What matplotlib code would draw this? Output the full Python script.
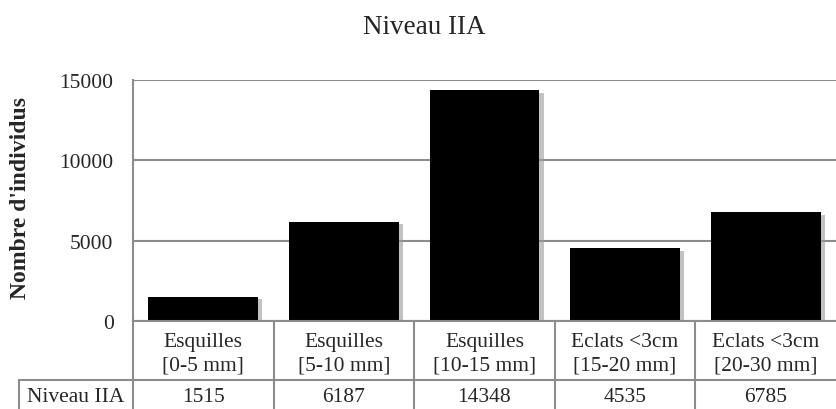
import matplotlib
matplotlib.use("Agg")
import matplotlib.pyplot as plt
import matplotlib.patheffects as pe
from matplotlib.transforms import blended_transform_factory

categories = ["Esquilles\n[0-5 mm]", "Esquilles\n[5-10 mm]", "Esquilles\n[10-15 mm]",
              "Eclats <3cm\n[15-20 mm]", "Eclats <3cm\n[20-30 mm]"]
series_name = "Niveau IIA"
values = [1515, 6187, 14348, 4535, 6785]
yticks = [0, 5000, 10000, 15000]

plt.rcParams['font.family'] = ['Liberation Serif', 'DejaVu Serif']

W, H = 836, 410
fig = plt.figure(figsize=(W / 100, H / 100), dpi=100)

def fx(px): return px / W
def fy(py): return 1 - py / H

ax_l, ax_r, ax_t, ax_b = 133, 836, 81, 322
ax = fig.add_axes([fx(ax_l), fy(ax_b), fx(ax_r) - fx(ax_l), fy(ax_t) - fy(ax_b)])

grid_c = '#8c8c8c'
txt_c = '#262626'
fs = 15.5
x = range(len(values))
bars = ax.bar(x, values, width=0.78, color='black', zorder=3,
              path_effects=[pe.SimplePatchShadow(offset=(3, -2), shadow_rgbFace='#9a9a9a', alpha=0.6), pe.Normal()])
ax.set_xlim(-0.5, len(values) - 0.5)
ax.set_ylim(0, 15000)
ax.set_yticks(yticks)
ax.set_yticklabels([str(v) for v in yticks], fontsize=fs, color=txt_c)
ax.tick_params(axis='y', length=0, pad=14)
ax.tick_params(axis='x', length=0, labelbottom=False)
ax.yaxis.grid(True, color=grid_c, lw=1.5, zorder=0)
for s in ['top', 'right', 'bottom']:
    ax.spines[s].set_visible(False)
ax.spines['left'].set_color(grid_c)
ax.spines['left'].set_linewidth(1.5)

fig.text(fx(21), fy(198), "Nombre d'individus", rotation=90, ha='center', va='center',
         fontsize=17, fontweight='bold', color=txt_c)

# Data table
row1_bot = 381
row2_bot = 410
hdr_l = 19
lw = 1.5
fig.add_artist(plt.Line2D([fx(ax_l), fx(ax_l)], [fy(ax_b), fy(row2_bot)], color=grid_c, lw=lw))
fig.add_artist(plt.Line2D([fx(hdr_l), fx(ax_r)], [fy(row1_bot), fy(row1_bot)], color=grid_c, lw=lw))
fig.add_artist(plt.Line2D([fx(hdr_l), fx(hdr_l)], [fy(row1_bot), fy(row2_bot)], color=grid_c, lw=lw))
fig.add_artist(plt.Line2D([fx(ax_l), fx(ax_r)], [fy(ax_b), fy(ax_b)], color=grid_c, lw=lw))
trans = blended_transform_factory(ax.transData, fig.transFigure)
for i, (c, v) in enumerate(zip(categories, values)):
    if i > 0:
        ax.plot([i - 0.5, i - 0.5], [fy(ax_b), fy(row2_bot)], transform=trans, color=grid_c,
                lw=lw, clip_on=False)
    ax.text(i, fy((ax_b + row1_bot) / 2 + 3), c, transform=trans, ha='center', va='center',
            fontsize=fs, color=txt_c, linespacing=1.35)
    ax.text(i, fy((row1_bot + row2_bot) / 2 + 2), str(v), transform=trans, ha='center', va='center',
            fontsize=fs, color=txt_c)
fig.text(fx((hdr_l + ax_l) / 2), fy((row1_bot + row2_bot) / 2 + 2), series_name, ha='center',
         va='center', fontsize=fs, color=txt_c)

fig.text(fx(424), fy(28), "Niveau IIA", ha='center', va='center', fontsize=19.5, color=txt_c)

fig.savefig("out.png", dpi=100)
